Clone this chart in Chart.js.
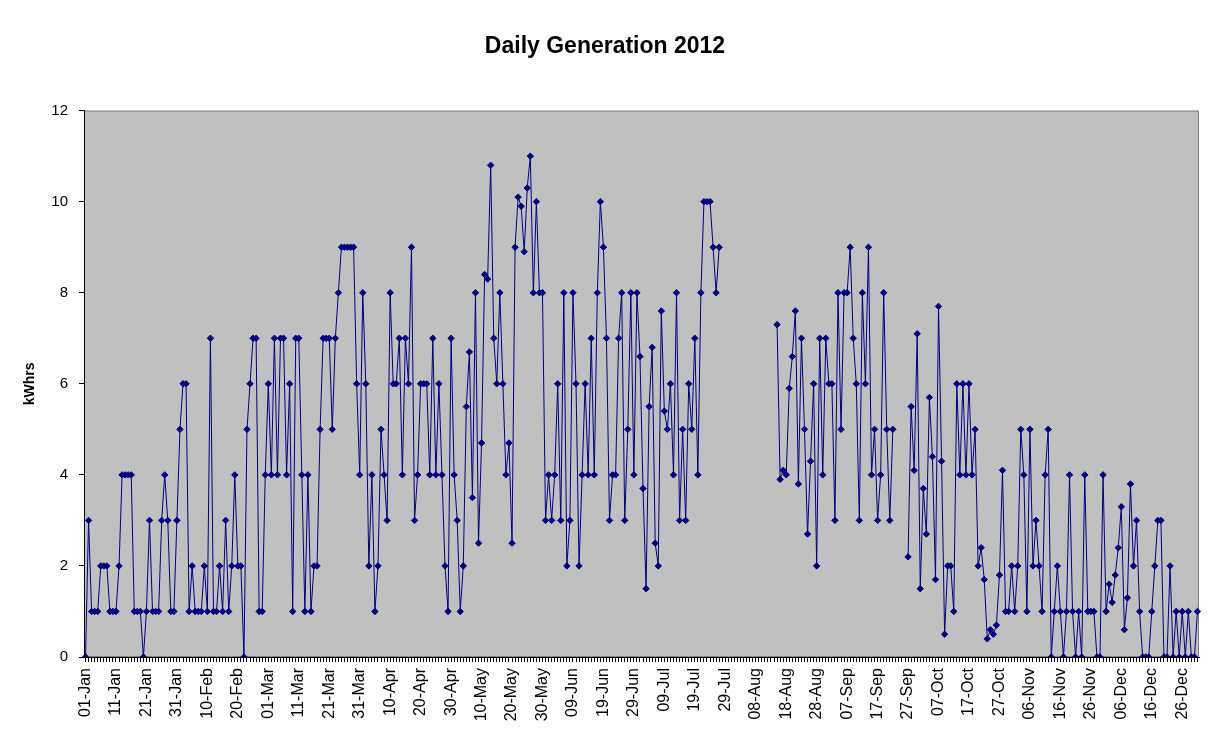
<!DOCTYPE html>
<html>
<head>
<meta charset="utf-8">
<title>Daily Generation 2012</title>
<script src="https://cdn.jsdelivr.net/npm/chart.js@4.4.0/dist/chart.umd.min.js"></script>
<style>
  html, body { margin: 0; padding: 0; background: #fff; }
  #wrap { width: 1219px; height: 747px; }
</style>
</head>
<body>
<div id="wrap"><canvas id="chart"></canvas></div>
<script>
// ── Data (kWh per day; null = no reading) ─────────────────────────────────
const YEAR = 2012;
const MONTH_NAMES = ["Jan", "Feb", "Mar", "Apr", "May", "Jun",
                     "Jul", "Aug", "Sep", "Oct", "Nov", "Dec"];
const Y_TICKS = [0, 2, 4, 6, 8, 10, 12];

const jan = [0, 3, 1, 1, 1, 2, 2, 2, 1, 1, 1, 2, 4, 4, 4, 4, 1, 1, 1, 0, 1, 3, 1, 1, 1, 3, 4, 3, 1, 1, 3];
const feb = [5, 6, 6, 1, 2, 1, 1, 1, 2, 1, 7, 1, 1, 2, 1, 3, 1, 2, 4, 2, 2, 0, 5, 6, 7, 7, 1, 1, 4];
const mar = [6, 4, 7, 4, 7, 7, 4, 6, 1, 7, 7, 4, 1, 4, 1, 2, 2, 5, 7, 7, 7, 5, 7, 8, 9, 9, 9, 9, 9, 6, 4];
const apr = [8, 6, 2, 4, 1, 2, 5, 4, 3, 8, 6, 6, 7, 4, 7, 6, 9, 3, 4, 6, 6, 6, 4, 7, 4, 6, 4, 2, 1, 7];
const may = [4, 3, 1, 2, 5.5, 6.7, 3.5, 8, 2.5, 4.7, 8.4, 8.3, 10.8, 7, 6, 8, 6, 4, 4.7, 2.5,
             9, 10.1, 9.9, 8.9, 10.3, 11, 8, 10, 8, 8, 3];
const jun = [4, 3, 4, 6, 3, 8, 2, 3, 8, 6, 2, 4, 6, 4, 7, 4, 8, 10, 9, 7, 3, 4, 4, 7, 8, 3, 5, 8, 4, 8];
const jul = [6.6, 3.7, 1.5, 5.5, 6.8, 2.5, 2, 7.6, 5.4, 5, 6, 4, 8, 3, 5, 3, 6, 5, 7, 4,
             8, 10, 10, 10, 9, 8, 9, null, null, null, null];
const aug = [null, null, null, null, null, null, null, null, null, null, null, null, null, null,
             7.3, 3.9, 4.1, 4.0, 5.9, 6.6, 7.6, 3.8, 7, 5, 2.7, 4.3, 6, 2, 7, 4, 7];
const sep = [6, 6, 3, 8, 5, 8, 8, 9, 7, 6, 3, 8, 6, 9, 4, 5, 3, 4, 8, 5, 3, 5,
             null, null, null, null, 2.2, 5.5, 4.1, 7.1];
const oct = [1.5, 3.7, 2.7, 5.7, 4.4, 1.7, 7.7, 4.3, 0.5, 2, 2, 1, 6, 4, 6, 4, 6, 4, 5, 2,
             2.4, 1.7, 0.4, 0.6, 0.5, 0.7, 1.8, 4.1, 1, 1, 2];
const nov = [1, 2, 5, 4, 1, 5, 2, 3, 2, 1, 4, 5, 0, 1, 2, 1, 0, 1, 4, 1, 0, 1, 0, 4, 1, 1, 1, 0, 0, 4];
const dec = [1, 1.6, 1.2, 1.8, 2.4, 3.3, 0.6, 1.3, 3.8, 2, 3, 1, 0, 0, 0, 1, 2, 3, 3, 0,
             0, 2, 0, 1, 0, 1, 0, 1, 0, 0, 1];

const MONTHS = [jan, feb, mar, apr, may, jun, jul, aug, sep, oct, nov, dec];

// ── Colours ───────────────────────────────────────────────────────────────
const NAVY      = "#000080";
const PLOT_BG   = "#C0C0C0";
const PLOT_EDGE = "#808080";
const INK       = "#000000";

// one category per day, "01-Jan" style
const days = [];
const kwh  = [];
MONTHS.forEach((vals, m) => {
  vals.forEach((v, i) => {
    days.push(String(i + 1).padStart(2, "0") + "-" + MONTH_NAMES[m]);
    kwh.push(v);
  });
});

// grey plot area with a thin darker frame, like the spreadsheet chart
const plotBackground = {
  id: "plotBackground",
  beforeDraw(chart) {
    const { ctx, chartArea: a } = chart;
    ctx.save();
    ctx.fillStyle = PLOT_BG;
    ctx.fillRect(a.left, a.top, a.right - a.left, a.bottom - a.top);
    ctx.strokeStyle = PLOT_EDGE;
    ctx.lineWidth = 1;
    ctx.strokeRect(a.left + 0.5, a.top + 0.5, a.right - a.left - 1, a.bottom - a.top - 1);
    ctx.restore();
  },
};

new Chart(document.getElementById("chart"), {
  type: "line",
  data: {
    labels: days,
    datasets: [{
      label: "kWhrs",
      data: kwh,
      borderColor: NAVY,
      borderWidth: 1,
      backgroundColor: NAVY,
      pointStyle: "rectRot",
      pointRadius: 3.2,
      pointBackgroundColor: NAVY,
      pointBorderColor: NAVY,
      pointBorderWidth: 1,
      spanGaps: false,
      tension: 0,
      fill: false,
    }],
  },
  options: {
    responsive: true,
    maintainAspectRatio: false,
    animation: false,
    // left padding pushes the title centre to where the original has it
    layout: { padding: { left: 11, right: 20, top: 0, bottom: 0 } },
    plugins: {
      legend: { display: false },
      tooltip: { enabled: false },
      title: {
        display: true,
        text: "Daily Generation 2012",
        color: INK,
        font: { family: "Arial", size: 23, weight: "bold" },
        padding: { top: 33, bottom: 50 },
      },
    },
    scales: {
      x: {
        type: "category",
        offset: true,
        grid: { display: true, drawOnChartArea: false, drawTicks: true, tickLength: 5, color: INK },
        border: { display: true, color: INK, width: 1 },
        ticks: {
          autoSkip: false,
          maxRotation: 90,
          minRotation: 90,
          padding: 6,
          color: INK,
          font: { family: "Arial", size: 16 },
          callback: (v, i) => (i % 10 === 0 ? days[i] : ""),
        },
        afterFit: (s) => {
          s.height = 90;
          s.paddingLeft = 0;
          s.paddingRight = 0;
        },
      },
      y: {
        min: 0,
        max: 12,
        afterBuildTicks: (s) => { s.ticks = Y_TICKS.map(v => ({ value: v })); },
        grid: { display: true, drawOnChartArea: false, drawTicks: true, tickLength: 5, color: INK },
        border: { display: true, color: INK, width: 1 },
        ticks: { color: INK, padding: 11, font: { family: "Arial", size: 15 } },
        title: {
          display: true,
          text: "kWhrs",
          color: INK,
          font: { family: "Arial", size: 14, weight: "bold" },
          padding: { top: 11, bottom: 0 },
        },
        afterFit: (s) => { s.width = 73; },
      },
    },
  },
  plugins: [plotBackground],
});
</script>
</body>
</html>
